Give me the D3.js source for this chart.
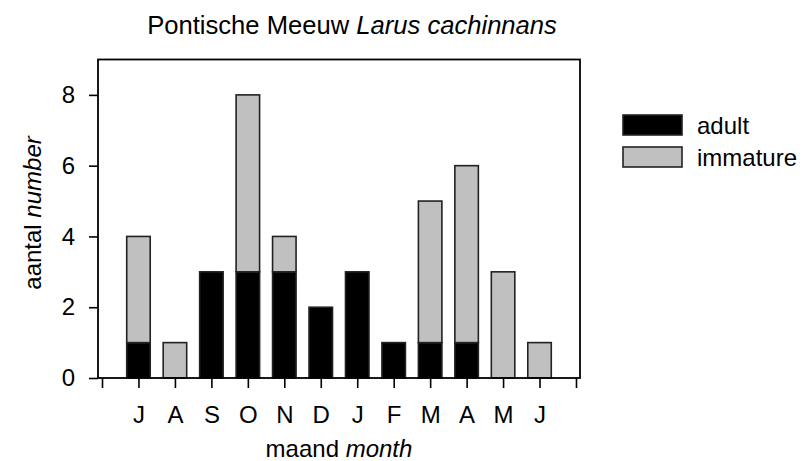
<!DOCTYPE html>
<html>
<head>
<meta charset="utf-8">
<script src="https://cdn.jsdelivr.net/npm/d3@7"></script>
<style>
  body { margin: 0; background: #fff; }
  svg { display: block; font-family: "Liberation Sans", Arial, sans-serif; }
</style>
</head>
<body>
<div id="chart"></div>
<script>
// data
var months = ["J", "A", "S", "O", "N", "D", "J", "F", "M", "A", "M", "J"];
var adult = [1, 0, 3, 3, 3, 2, 3, 1, 1, 1, 0, 0];
var immature = [3, 1, 0, 5, 1, 0, 0, 0, 4, 5, 3, 1];
var yTicks = [0, 2, 4, 6, 8];
var seriesNames = ["adult", "immature"];
var seriesColors = ["#000000", "#c0c0c0"];

var width = 803, height = 461;
var fs = "24px";

var svg = d3.select("#chart").append("svg")
  .attr("width", width)
  .attr("height", height);

// slot 0 and 13 are empty, months sit on 1..12
var x = d3.scaleLinear().domain([-0.11, 13.11]).range([98, 580]);
var y = d3.scaleLinear().domain([0, 9]).range([378, 59.5]);
var barW = 23.5;

// stacked data
var rows = months.map(function (m, i) {
  return { i: i + 1, adult: adult[i], immature: immature[i] };
});
var stack = d3.stack().keys(seriesNames)(rows);

var layer = svg.selectAll(".layer")
  .data(stack)
  .enter().append("g")
  .attr("class", "layer")
  .attr("fill", function (d, k) { return seriesColors[k]; });

layer.selectAll("rect")
  .data(function (d) { return d.filter(function (p) { return p[1] > p[0]; }); })
  .enter().append("rect")
  .attr("x", function (d) { return x(d.data.i) - barW / 2; })
  .attr("y", function (d) { return y(d[1]); })
  .attr("width", barW)
  .attr("height", function (d) { return y(d[0]) - y(d[1]); })
  .attr("stroke", "#222")
  .attr("stroke-width", 1.6);

// frame
svg.append("rect")
  .attr("x", x.range()[0])
  .attr("y", y(9))
  .attr("width", x.range()[1] - x.range()[0])
  .attr("height", y(0) - y(9))
  .attr("fill", "none")
  .attr("stroke", "#000")
  .attr("stroke-width", 1.8);

// x axis ticks and labels
var xAxis = d3.axisBottom(x)
  .tickValues(d3.range(0, 14))
  .tickSize(10)
  .tickFormat(function (d) { return (d >= 1 && d <= 12) ? months[d - 1] : ""; });

svg.append("g")
  .attr("transform", "translate(0," + y(0) + ")")
  .call(xAxis)
  .call(function (g) { g.select(".domain").remove(); })
  .call(function (g) {
    g.selectAll(".tick line").attr("stroke", "#000").attr("stroke-width", 1.6);
    g.selectAll(".tick text")
      .attr("y", 45)
      .attr("dy", 0)
      .attr("fill", "#000")
      .style("font-size", fs);
  })
  .attr("font-family", null);

// y axis
var yAxis = d3.axisLeft(y)
  .tickValues(yTicks)
  .tickSize(9)
  .tickPadding(14);

svg.append("g")
  .attr("transform", "translate(" + x.range()[0] + ",0)")
  .call(yAxis)
  .call(function (g) { g.select(".domain").remove(); })
  .call(function (g) {
    g.selectAll(".tick line").attr("stroke", "#000").attr("stroke-width", 1.6);
    g.selectAll(".tick text").attr("fill", "#000").style("font-size", fs);
  })
  .attr("font-family", null);

// title
var title = svg.append("text")
  .attr("x", 352)
  .attr("y", 34)
  .attr("text-anchor", "middle")
  .style("font-size", "25.6px");
title.append("tspan").text("Pontische Meeuw ");
title.append("tspan").style("font-style", "italic").text("Larus cachinnans");

// axis titles
var xt = svg.append("text")
  .attr("x", 339)
  .attr("y", 457)
  .attr("text-anchor", "middle")
  .style("font-size", fs);
xt.append("tspan").text("maand ");
xt.append("tspan").style("font-style", "italic").text("month");

var yt = svg.append("text")
  .attr("transform", "translate(41,213) rotate(-90)")
  .attr("text-anchor", "middle")
  .style("font-size", fs);
yt.append("tspan").text("aantal ");
yt.append("tspan").style("font-style", "italic").text("number");

// legend
var legend = svg.selectAll(".legend")
  .data(seriesNames)
  .enter().append("g")
  .attr("class", "legend")
  .attr("transform", function (d, k) { return "translate(623," + (115 + k * 32) + ")"; });

legend.append("rect")
  .attr("width", 59)
  .attr("height", 20)
  .attr("fill", function (d, k) { return seriesColors[k]; })
  .attr("stroke", "#222")
  .attr("stroke-width", 1.6);

legend.append("text")
  .attr("x", 74)
  .attr("y", 18.5)
  .style("font-size", fs)
  .text(function (d) { return d; });
</script>
</body>
</html>
